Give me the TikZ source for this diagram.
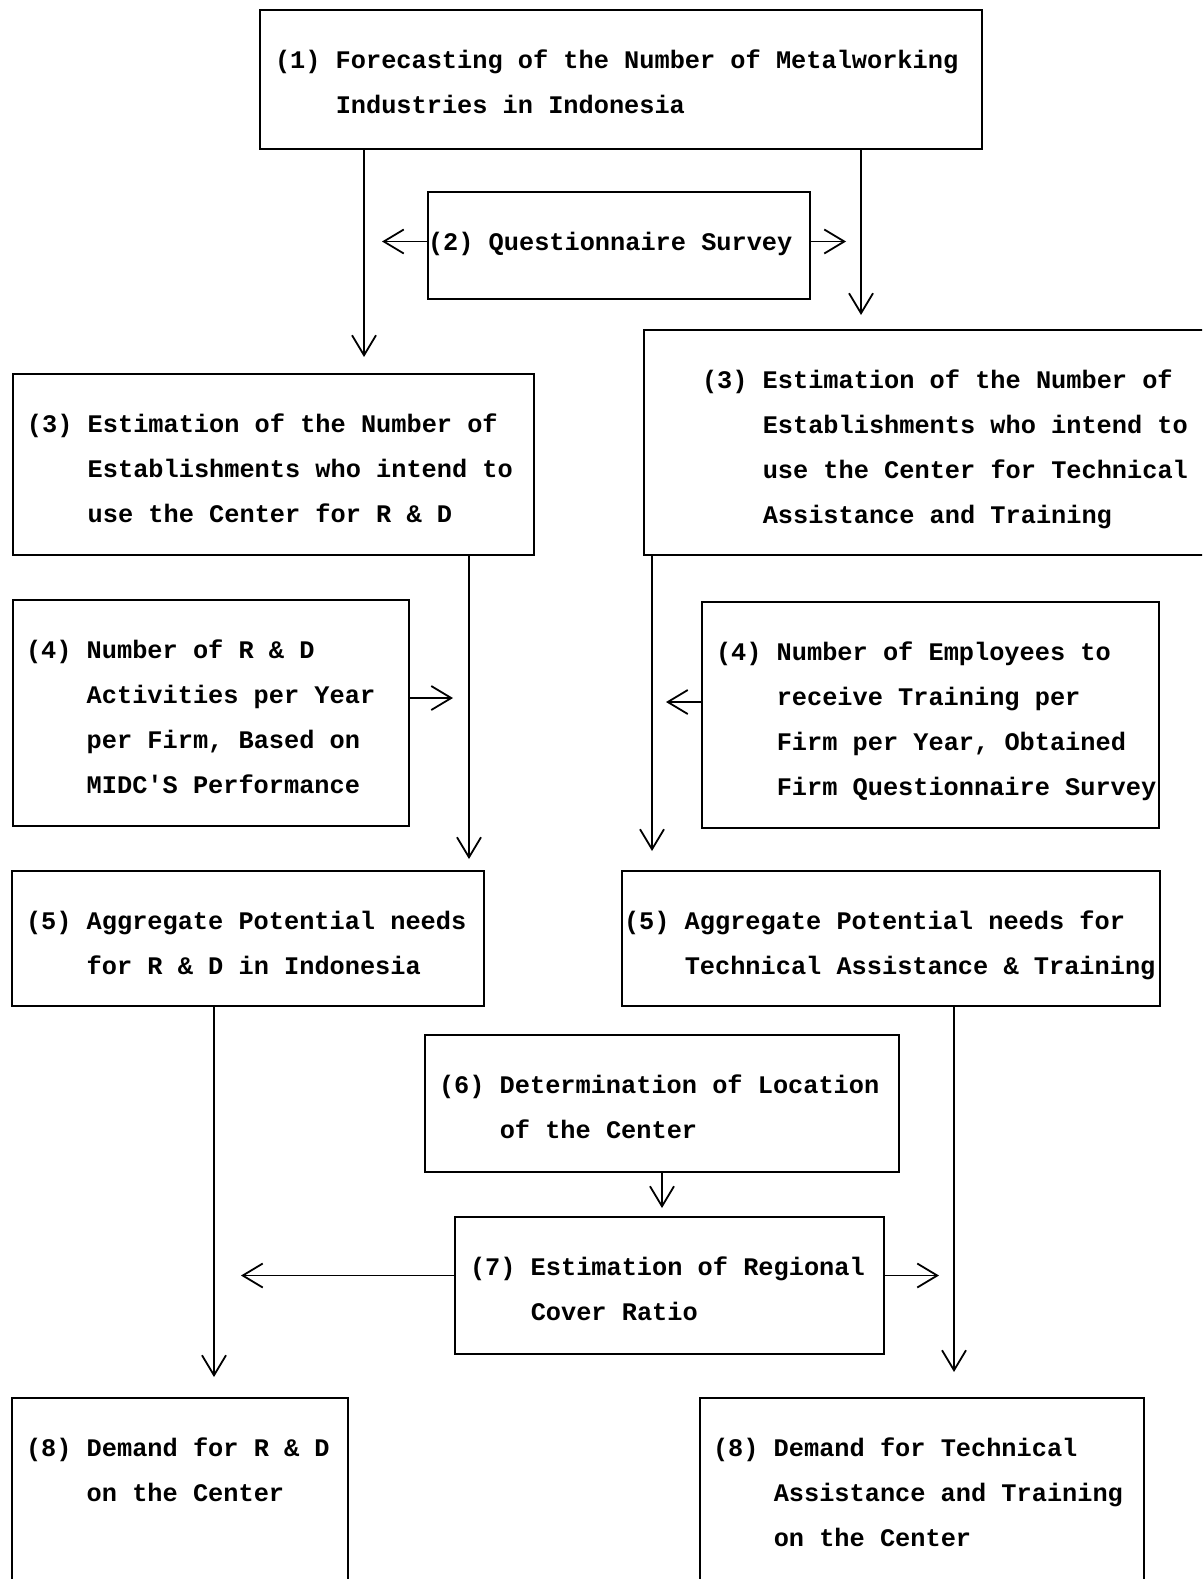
\documentclass[tikz,border=0pt]{standalone}
\usepackage{fontspec}
\newfontfamily\boxfont{Liberation Mono}
\usetikzlibrary{arrows.meta}
\newcommand\ind{\phantom{(0) }}
% one typed line, every space one character wide
\newcommand\tline[1]{\mbox{\spaceskip=15.2pt\xspaceskip=15.2pt\relax#1}}
\protected\def\boxsel{\boxfont\bfseries\fontsize{25.3}{45.3}\selectfont}

\begin{document}
\begin{tikzpicture}[x=1pt,y=-1pt,
  box/.style={draw, line width=1.8pt, anchor=north west, outer sep=0pt, inner ysep=0pt,
    text height=58pt, align=left, font=\boxsel},
  boxdim/.style n args={3}{minimum width=#1, text depth=#2, inner xsep=#3, text width=#1-2*#3},
  arr/.style={-{Straight Barb[length=20pt,width=24pt]}, line width=1.8pt}]
  \useasboundingbox (0,0) rectangle (1202,1579);
  \clip (0,0) rectangle (1202,1579);
  % boxes
  \node[box, boxdim={722}{81pt}{15}] (b1) at (260,10)
    {\tline{(1) Forecasting of the Number of Metalworking}\\\tline{\ind Industries in Indonesia}};
  \node[box, boxdim={382}{49pt}{0}] (b2) at (428,192)
    {\tline{(2) Questionnaire Survey}};
  \node[box, boxdim={521}{123pt}{14}] (b3l) at (13,374)
    {\tline{(3) Estimation of the Number of}\\\tline{\ind Establishments who intend to}\\
     \tline{\ind use the Center for R \& D}};
  \node[box, boxdim={571}{167pt}{58}] (b3r) at (644,330)
    {\tline{(3) Estimation of the Number of}\\\tline{\ind Establishments who intend to}\\
     \tline{\ind use the Center for Technical}\\\tline{\ind Assistance and Training}};
  \node[box, boxdim={396}{168pt}{13}] (b4l) at (13,600)
    {\tline{(4) Number of R \& D}\\\tline{\ind Activities per Year}\\
     \tline{\ind per Firm, Based on}\\\tline{\ind MIDC\textquotesingle S Performance}};
  \node[box, boxdim={457}{168pt}{14}] (b4r) at (702,602)
    {\tline{(4) Number of Employees to}\\\tline{\ind receive Training per}\\
     \tline{\ind Firm per Year, Obtained}\\\tline{\ind Firm Questionnaire Survey}};
  \node[box, boxdim={472}{77pt}{14}] (b5l) at (12,871)
    {\tline{(5) Aggregate Potential needs}\\\tline{\ind for R \& D in Indonesia}};
  \node[box, boxdim={538}{77pt}{2}] (b5r) at (622,871)
    {\tline{(5) Aggregate Potential needs for}\\\tline{\ind Technical Assistance \& Training}};
  \node[box, boxdim={474}{79pt}{14}] (b6) at (425,1035)
    {\tline{(6) Determination of Location}\\\tline{\ind of the Center}};
  \node[box, boxdim={429}{79pt}{15}] (b7) at (455,1217)
    {\tline{(7) Estimation of Regional}\\\tline{\ind Cover Ratio}};
  \node[box, boxdim={336}{300pt}{14}] (b8l) at (12,1398)
    {\tline{(8) Demand for R \& D}\\\tline{\ind on the Center}};
  \node[box, boxdim={444}{300pt}{13}] (b8r) at (700,1398)
    {\tline{(8) Demand for Technical}\\\tline{\ind Assistance and Training}\\\tline{\ind on the Center}};
  % vertical routes
  \coordinate (xa) at (364,0);
  \coordinate (xb) at (861,0);
  \coordinate (xc) at (469,0);
  \coordinate (xd) at (652,0);
  \coordinate (xe) at (214,0);
  \coordinate (xf) at (954,0);
  % top
  \draw[arr, shorten >=17pt] (b1.south -| xa) -- (b3l.north -| xa);
  \draw[arr, shorten >=15pt] (b1.south -| xb) -- (b3r.north -| xb);
  \draw[arr, shorten >=18pt] ([yshift=4pt]b2.west) -- ([yshift=4pt]b2.west -| xa);
  \draw[arr, shorten >=15pt] ([yshift=4pt]b2.east) -- ([yshift=4pt]b2.east -| xb);
  % middle
  \draw[arr, shorten >=12pt] (b3l.south -| xc) -- (b5l.north -| xc);
  \draw[arr, shorten >=20pt] (b3r.south -| xd) -- (b5r.north -| xd);
  \draw[arr, shorten >=16pt] ([yshift=15pt]b4l.east) -- ([yshift=15pt]b4l.east -| xc);
  \draw[arr, shorten >=14pt] ([yshift=13pt]b4r.west) -- ([yshift=13pt]b4r.west -| xd);
  % bottom
  \draw[arr, shorten >=21pt] (b5l.south -| xe) -- (b8l.north -| xe);
  \draw[arr, shorten >=26pt] (b5r.south -| xf) -- (b8r.north -| xf);
  \draw[arr, shorten >=9pt] (b6.south) -- (b6.south |- b7.north);
  \draw[arr, shorten >=27pt] ([yshift=10pt]b7.west) -- ([yshift=10pt]b7.west -| xe);
  \draw[arr, shorten >=15pt] ([yshift=10pt]b7.east) -- ([yshift=10pt]b7.east -| xf);
\end{tikzpicture}
\end{document}
